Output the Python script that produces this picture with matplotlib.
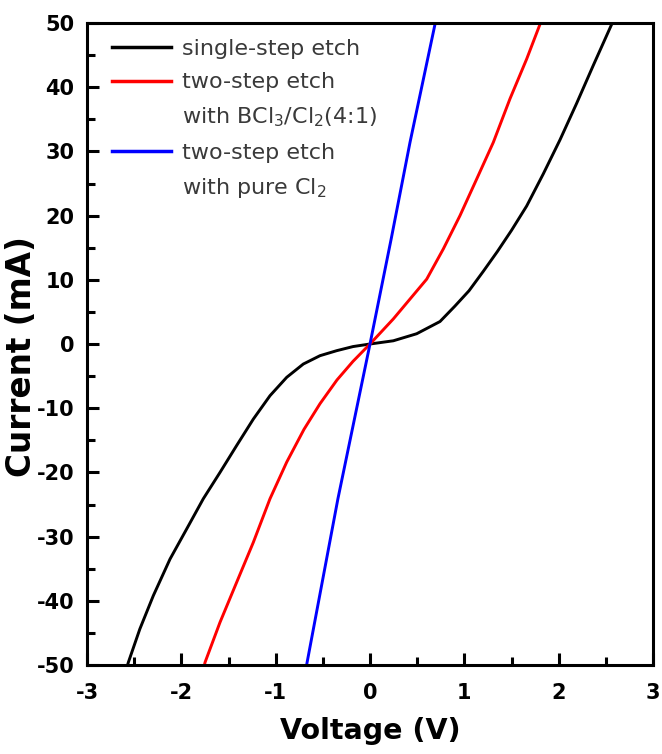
import matplotlib
matplotlib.use("Agg")
import matplotlib.pyplot as plt
from matplotlib.lines import Line2D
from matplotlib.ticker import MultipleLocator

# ---- data ----
v_single = [-2.57, -2.562, -2.44, -2.297, -2.12, -1.943, -1.767, -1.59, -1.413,
            -1.237, -1.06, -0.883, -0.707, -0.53, -0.353, -0.18, 0.0,
            0.247, 0.495, 0.742, 0.90, 1.05, 1.20, 1.35, 1.50, 1.661, 1.837,
            2.014, 2.191, 2.367, 2.562, 2.58]
i_single = [-50.0, -49.6, -44.4, -39.2, -33.5, -28.8, -24.1, -20.0, -15.8,
            -11.7, -8.05, -5.19, -3.12, -1.82, -1.04, -0.4, 0.0,
            0.5, 1.6, 3.5, 5.9, 8.3, 11.3, 14.4, 17.7, 21.5, 26.5,
            31.8, 37.5, 43.4, 49.8, 50.0]

v_bcl3 = [-1.755, -1.749, -1.59, -1.413, -1.237, -1.06, -0.883, -0.70, -0.53,
          -0.35, -0.18, 0.0, 0.247, 0.601, 0.777, 0.954, 1.131, 1.307,
          1.484, 1.661, 1.802, 1.805]
i_bcl3 = [-50.0, -49.6, -43.35, -37.1, -30.9, -24.1, -18.4, -13.3, -9.3,
          -5.6, -2.7, 0.0, 3.9, 10.1, 14.8, 20.0, 25.7, 31.4,
          38.2, 44.4, 49.8, 50.0]

v_cl2 = [-0.672, -0.34, 0.0, 0.225, 0.424, 0.689, 0.69]
i_cl2 = [-50.0, -24.1, 0.0, 16.4, 31.4, 49.8, 50.0]

labels = ["single-step etch", "two-step etch", "with BCl$_3$/Cl$_2$(4:1)",
          "two-step etch", "with pure Cl$_2$"]
x_ticks = [-3, -2, -1, 0, 1, 2, 3]
y_ticks = [-50, -40, -30, -20, -10, 0, 10, 20, 30, 40, 50]

fig = plt.figure(figsize=(6.62, 7.54), dpi=100)
ax = fig.add_axes([87 / 662, 1 - 665 / 754, 566 / 662, 642 / 754])

lw = 2.1
ax.plot(v_single, i_single, color="#000000", lw=lw)
ax.plot(v_bcl3, i_bcl3, color="#ff0000", lw=lw)
ax.plot(v_cl2, i_cl2, color="#0000ff", lw=lw)

ax.set_xlim(-3, 3)
ax.set_ylim(-50, 50)
ax.set_xticks(x_ticks)
ax.set_yticks(y_ticks)
ax.set_xticklabels([str(t) for t in x_ticks])
ax.set_yticklabels([str(t) for t in y_ticks])
ax.xaxis.set_minor_locator(MultipleLocator(0.5))
ax.yaxis.set_minor_locator(MultipleLocator(5))

for s in ax.spines.values():
    s.set_linewidth(2.2)

ax.tick_params(which="both", direction="in", top=False, right=False, width=2.2)
ax.tick_params(which="major", length=8.5)
ax.tick_params(which="minor", length=5.5)
ax.tick_params(axis="x", which="major", pad=13)
ax.tick_params(axis="y", which="major", pad=9)
for lab in ax.get_xticklabels() + ax.get_yticklabels():
    lab.set_fontfamily("DejaVu Sans")
    lab.set_fontweight("bold")
    lab.set_fontsize(15)

ax.set_xlabel("Voltage (V)", family="DejaVu Sans", fontweight="bold", fontsize=20.5)
ax.set_ylabel("Current (mA)", family="DejaVu Sans", fontweight="bold", fontsize=23.5)
ax.xaxis.set_label_coords(0.5, (665 - 717) / 642)
ax.yaxis.set_label_coords((38 - 87) / 566, 0.48)

handles = [Line2D([], [], color="#000000", lw=2.5),
           Line2D([], [], color="#ff0000", lw=2.5),
           Line2D([], [], color="none"),
           Line2D([], [], color="#0000ff", lw=2.5),
           Line2D([], [], color="none")]
leg = ax.legend(handles, labels, loc="upper left",
                bbox_to_anchor=((112 - 87) / 566, (665 - 39) / 642),
                frameon=False, borderpad=0, borderaxespad=0,
                handlelength=2.65, handletextpad=0.5, labelspacing=0.6,
                prop={"family": "DejaVu Sans", "size": 16})
for t in leg.get_texts():
    t.set_color("#3a3a3a")

fig.savefig("out.png", dpi=100)
